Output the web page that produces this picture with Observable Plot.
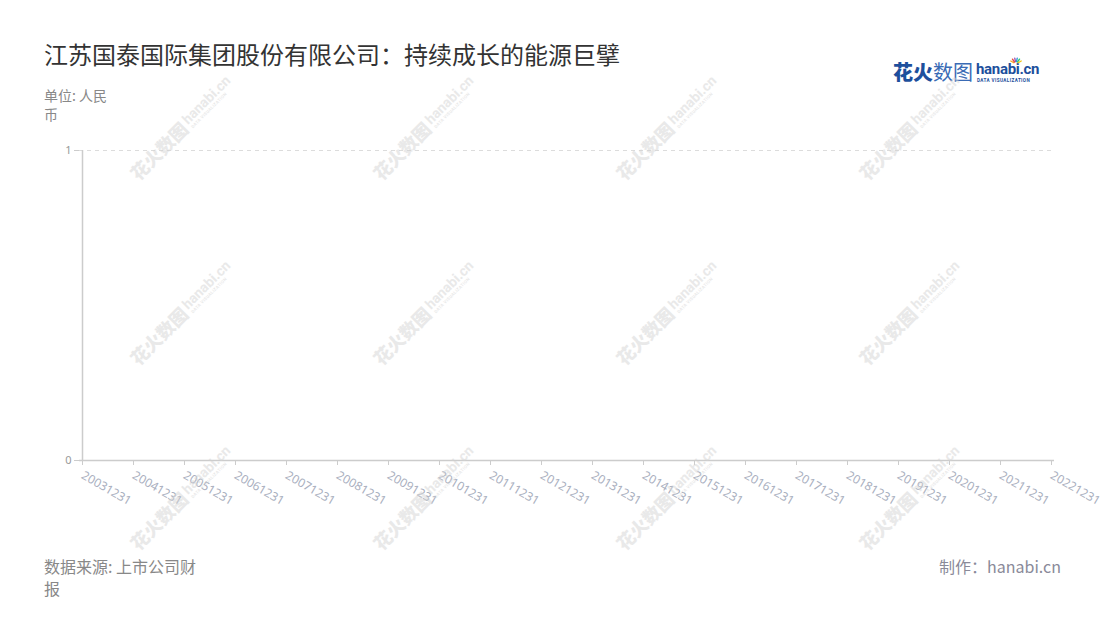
<!DOCTYPE html>
<html>
<head>
<meta charset="utf-8">
<script src="https://cdn.jsdelivr.net/npm/d3@7"></script>
<script src="https://cdn.jsdelivr.net/npm/@observablehq/plot@0.6"></script>
<style>
  html, body { margin: 0; padding: 0; background: #fff; }
  body { width: 1100px; height: 620px; overflow: hidden; font-family: "Noto Sans CJK SC", "Noto Sans", sans-serif; }
  #wrap { position: relative; width: 1100px; height: 620px; }
  .abs { position: absolute; }
  #title { left: 44px; top: 37px; font-size: 24px; line-height: 34px; color: #333; white-space: nowrap; }
  #unit { left: 44px; top: 86px; width: 68px; font-size: 14px; line-height: 19px; color: #888; }
  #source { left: 44px; top: 555px; width: 162px; font-size: 16px; line-height: 22px; color: #888; }
  #maker { right: 39px; top: 555px; font-size: 16px; line-height: 22px; color: #8a8a99; white-space: nowrap; }
  #chart { left: 0; top: 0; }
  #wm, #logo { left: 0; top: 0; pointer-events: none; }
</style>
</head>
<body>
<div id="wrap">
  <div id="chart" class="abs"></div>
  <div id="title" class="abs"></div>
  <div id="unit" class="abs"></div>
  <div id="source" class="abs"></div>
  <div id="maker" class="abs"></div>
  <svg id="logo" class="abs" width="1100" height="620"></svg>
  <svg id="wm" class="abs" width="1100" height="620"></svg>
</div>
<script>
// ---- data ----
const titleText = "江苏国泰国际集团股份有限公司：持续成长的能源巨擘";
const unitText = "单位: 人民币";
const sourceText = "数据来源: 上市公司财报";
const makerText = "制作：hanabi.cn";
const dates = ["20031231","20041231","20051231","20061231","20071231","20081231","20091231","20101231","20111231","20121231","20131231","20141231","20151231","20161231","20171231","20181231","20191231","20201231","20211231","20221231"];
const values = []; // the reference chart shows no data series
const yTicks = [0, 1];
const yDomain = [0, 1];

document.getElementById("title").textContent = titleText;
document.getElementById("unit").textContent = unitText;
document.getElementById("source").textContent = sourceText;
document.getElementById("maker").textContent = makerText;

const table = values.map((v, i) => ({date: dates[i], value: v}));

const chart = Plot.plot({
  width: 1100,
  height: 620,
  marginLeft: 79,
  marginRight: 46,
  marginTop: 150,
  marginBottom: 160,
  style: {fontFamily: "'Noto Sans', 'Noto Sans CJK SC', sans-serif", background: "transparent", overflow: "visible"},
  x: {type: "point", domain: dates, padding: 0},
  y: {domain: yDomain},
  marks: [
    Plot.ruleY([yTicks[1]], {stroke: "#dcdcdc", strokeDasharray: "4,4"}),
    Plot.ruleY([yTicks[0]], {stroke: "#cccccc", strokeWidth: 1.5}),
    Plot.ruleX([dates[0]], {stroke: "#cccccc", strokeWidth: 1.5}),
    Plot.lineY(table, {x: "date", y: "value", stroke: "#1d4f9c"}),
    Plot.axisX({ticks: dates, tickSize: 5, tickPadding: 9, tickRotate: 30, textAnchor: "start",
      stroke: "#cccccc", color: "#aab0c0", fontSize: 12, label: null}),
    Plot.axisY({ticks: yTicks, tickSize: 5, tickPadding: 3, stroke: "#cccccc", color: "#999999",
      fontSize: 11, label: null, tickFormat: d => String(d)})
  ]
});
document.getElementById("chart").appendChild(chart);

// ---- logo ----
const logo = d3.select("#logo");
logo.append("text").attr("x", 893).attr("y", 80).attr("font-size", 20).attr("font-weight", 900)
  .attr("fill", "#1d4f9c").attr("font-family", "'Noto Sans CJK SC'").text("花火");
logo.append("text").attr("x", 933).attr("y", 80).attr("font-size", 20).attr("font-weight", 400)
  .attr("fill", "#3a6bb5").attr("font-family", "'Noto Sans CJK SC'").text("数图");
logo.append("text").attr("x", 976).attr("y", 74).attr("font-size", 15).attr("font-weight", 700)
  .attr("fill", "#1d4f9c").attr("font-family", "Roboto").attr("letter-spacing", -0.3).text("hanabi.cn");
logo.append("text").attr("x", 977).attr("y", 81.5).attr("font-size", 4.6).attr("font-weight", 700)
  .attr("fill", "#1d4f9c").attr("font-family", "Roboto").attr("letter-spacing", 0.4).text("DATA VISUALIZATION");
const sparkColors = ["#f5a623","#e84c3d","#9b59b6","#3498db","#2ecc71","#f1c40f"];
sparkColors.forEach((c, i) => {
  const a = (-150 + i * 24) * Math.PI / 180;
  logo.append("line").attr("x1", 1016 + Math.cos(a) * 2.5).attr("y1", 64 + Math.sin(a) * 2.5)
    .attr("x2", 1016 + Math.cos(a) * 6).attr("y2", 64 + Math.sin(a) * 6)
    .attr("stroke", c).attr("stroke-width", 1.4).attr("stroke-linecap", "round");
});

// ---- watermark ----
const wm = d3.select("#wm");
const cols = [183, 426, 669, 912];
const rows = [127, 312, 497];
rows.forEach(cy => cols.forEach(cx => {
  const g = wm.append("g").attr("transform", `translate(${cx},${cy}) rotate(-45)`).attr("opacity", 0.5);
  g.append("text").attr("x", -70).attr("y", 7).attr("font-size", 18).attr("font-weight", 900)
    .attr("fill", "#d4d4d4").attr("font-family", "'Noto Sans CJK SC'").text("花火数图");
  g.append("text").attr("x", 5).attr("y", 2).attr("font-size", 14).attr("font-weight", 700)
    .attr("fill", "#d4d4d4").attr("font-family", "Roboto").text("hanabi.cn");
  g.append("text").attr("x", 6).attr("y", 8).attr("font-size", 4.3).attr("font-weight", 700)
    .attr("fill", "#d4d4d4").attr("font-family", "Roboto").attr("letter-spacing", 0.3).text("DATA VISUALIZATION");
}));
</script>
</body>
</html>
